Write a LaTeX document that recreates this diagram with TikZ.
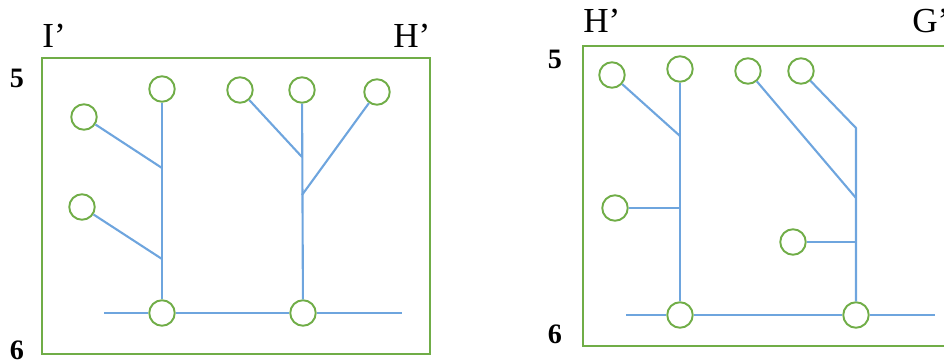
\documentclass[tikz,border=0pt]{standalone}
\usepackage{fontspec}
\setmainfont{Liberation Serif}
\definecolor{boxgreen}{RGB}{112,173,71}
\definecolor{pipeblue}{RGB}{110,165,222}
\begin{document}
\begin{tikzpicture}
[x=0.02cm, y=-0.02cm, font=\fontsize{20}{24}\selectfont]
\tikzstyle{valve}=[circle, draw=boxgreen, line width=1.1pt, fill=white, inner sep=0mm, minimum size=0.51cm]
\tikzstyle{pipe}=[draw=pipeblue, line width=1.2pt]
\tikzstyle{frame}=[draw=boxgreen, line width=1.2pt]
\tikzstyle{corner}=[anchor=base west, inner sep=0pt]
\tikzstyle{rownum}=[anchor=base, inner sep=0pt, font=\fontsize{16}{19}\selectfont\bfseries]
\useasboundingbox (0,0) rectangle (944,362);
\clip (0,0) rectangle (944,362);

% left panel: I' -- H'
\draw[frame] (42,58) rectangle (430,354);
\node[corner]	(I)  	at (42,47) 	{I’};
\node[corner]	(H)  	at (393,47) 	{H’};
\node[rownum]	(r5)  	at (17,87) 	{5};
\node[rownum]	(r6)  	at (17,359) 	{6};

\node[valve]	(A1)  	at (84,117) 	{};
\node[valve]	(A2)  	at (162,89) 	{};
\node[valve]	(A3)  	at (240,90) 	{};
\node[valve]	(A4)  	at (302,90) 	{};
\node[valve]	(A5)  	at (377,92) 	{};
\node[valve]	(A6)  	at (82,207) 	{};
\node[valve]	(A7)  	at (162,313) 	{};
\node[valve]	(A8)  	at (303,313) 	{};
\coordinate	(aj1)	at (162,168);
\coordinate	(aj2)	at (162,259);
\coordinate	(aj3)	at (302,157);
\coordinate	(aj4)	at (302,195);
\coordinate	(aw)	at (104,313);
\coordinate	(ae)	at (402,313);

\draw[pipe]    (aw)--(A7)--(A8)--(ae);
\draw[pipe]    (A2)--(A7);
\draw[pipe]    (A4)--(A8);
\draw[pipe]    (A1)--(aj1);
\draw[pipe]    (A6)--(aj2);
\draw[pipe]    (A3)--(aj3);
\draw[pipe]    (A5)--(aj4);

% right panel: H' -- G'
\draw[frame] (583,46) rectangle (960,346);
\node[corner]	(H2)  	at (583,32) 	{H’};
\node[corner]	(G)  	at (912,32) 	{G’};
\node[rownum]	(s5)  	at (555,68) 	{5};
\node[rownum]	(s6)  	at (555,343) 	{6};

\node[valve]	(B1)  	at (612,75) 	{};
\node[valve]	(B2)  	at (680,69) 	{};
\node[valve]	(B3)  	at (748,71) 	{};
\node[valve]	(B4)  	at (801,71) 	{};
\node[valve]	(B5)  	at (615,208) 	{};
\node[valve]	(B6)  	at (793,242) 	{};
\node[valve]	(B7)  	at (680,315) 	{};
\node[valve]	(B8)  	at (856,315) 	{};
\coordinate	(bj1)	at (680,136);
\coordinate	(bj2)	at (680,208);
\coordinate	(bj3)	at (856,128);
\coordinate	(bj4)	at (856,198);
\coordinate	(bj5)	at (856,242);
\coordinate	(bw)	at (626,315);
\coordinate	(be)	at (935,315);

\draw[pipe]    (bw)--(B7)--(B8)--(be);
\draw[pipe]    (B2)--(B7);
\draw[pipe]    (B1)--(bj1);
\draw[pipe]    (B5)--(bj2);
\draw[pipe]    (B4)--(bj3)--(B8);
\draw[pipe]    (B3)--(bj4);
\draw[pipe]    (B6)--(bj5);
\end{tikzpicture}
\end{document}
